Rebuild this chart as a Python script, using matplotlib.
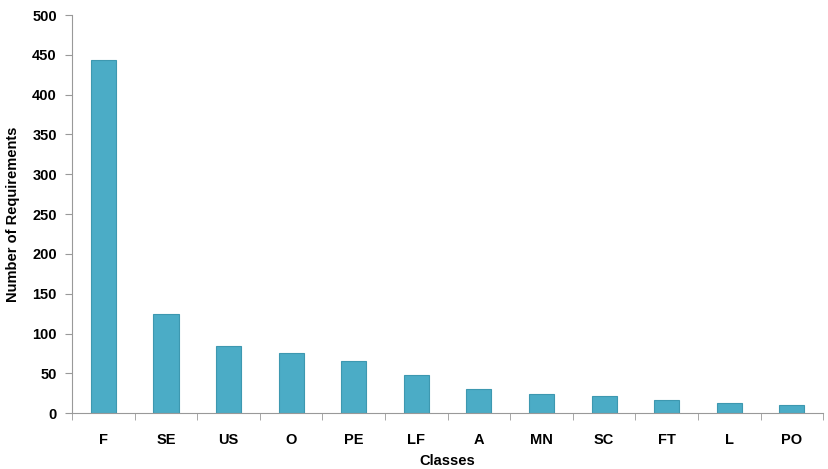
import matplotlib
matplotlib.use("Agg")
import matplotlib.pyplot as plt
import numpy as np

plt.rcParams['font.family'] = ['Liberation Sans', 'DejaVu Sans']
plt.rcParams['font.weight'] = 'bold'

classes = ['F', 'SE', 'US', 'O', 'PE', 'LF', 'A', 'MN', 'SC', 'FT', 'L', 'PO']
counts = [443, 124, 84, 76, 66, 48, 30, 24, 21, 17, 13, 10]

fig = plt.figure(figsize=(8.29, 4.69), dpi=100)
ax = fig.add_axes([0.087, 0.119, 0.906, 0.849])

x = np.arange(len(classes))
ax.bar(x, counts, width=0.4, color='#4bacc6', edgecolor='#3d98b0', linewidth=0.8)

ax.set_xlim(-0.5, len(classes) - 0.5)
ax.set_ylim(0, 500)
ax.set_yticks(range(0, 501, 50))
ax.set_xticks(x)
ax.set_xticklabels(classes, fontsize=10.5, fontweight='bold')
ax.tick_params(axis='x', length=0, pad=14)
ax.set_xticks(np.arange(-0.5, len(classes), 1), minor=True)
ax.tick_params(axis='x', which='minor', length=5, color='#999999', direction='out')
ax.tick_params(axis='y', length=5, color='#999999', labelsize=10.5, pad=6)
for lab in ax.get_yticklabels():
    lab.set_fontweight('bold')

for s in ['top', 'right']:
    ax.spines[s].set_visible(False)
ax.spines['left'].set_color('#999999')
ax.spines['bottom'].set_color('#999999')

ax.set_xlabel('Classes', fontsize=10.5, fontweight='bold', labelpad=5)
ax.set_ylabel('Number of Requirements', fontsize=10.5, fontweight='bold', labelpad=9)

fig.savefig('out.png', dpi=100)
